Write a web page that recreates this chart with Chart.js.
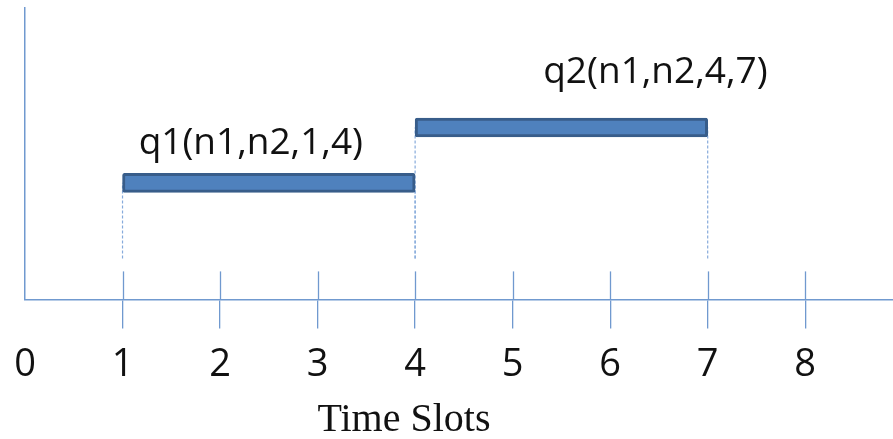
<!DOCTYPE html>
<html>
<head>
<meta charset="utf-8">
<script src="https://cdn.jsdelivr.net/npm/chart.js@4.4.1/dist/chart.umd.min.js"></script>
<style>
  html, body { margin: 0; padding: 0; background: #fff; }
  #wrap { width: 893px; height: 439px; position: relative; }
</style>
</head>
<body>
<div id="wrap"><canvas id="chart"></canvas></div>
<script>
// time slot ticks along the x axis
const timeSlots = [0, 1, 2, 3, 4, 5, 6, 7, 8];

// queries: name, start slot, end slot, drawing level
const queryNames = ['q1(n1,n2,1,4)', 'q2(n1,n2,4,7)'];
const queryStarts = [1, 4];
const queryEnds = [4, 7];
const queryLevels = [4, 5.9];

// where the dotted guides stop, in y units
const guideBase = 1.4;

const axisColor = '#7099cf';
const barFill = '#4f81bd';
const barEdge = '#385d8a';

// bar floating data built from the arrays above
const barData = queryNames.map((name, i) => ({
  x: [queryStarts[i], queryEnds[i]],
  y: queryLevels[i],
}));

// dotted guides from each bar end down toward the axis
const guideSets = [];
queryNames.forEach((name, i) => {
  [queryStarts[i], queryEnds[i]].forEach((slot) => {
    guideSets.push({
      type: 'line',
      indexAxis: 'x',
      data: [{ x: slot, y: guideBase }, { x: slot, y: queryLevels[i] }],
      borderColor: '#86aadb',
      borderWidth: 1.2,
      borderDash: [3, 2],
      pointRadius: 0,
      order: 2,
    });
  });
});

// short tick stubs above the x axis + query labels + axis title
const decorPlugin = {
  id: 'decor',
  beforeDatasetsDraw(chart) {
    const { ctx } = chart;
    const xs = chart.scales.x;
    const axisY = chart.chartArea.bottom;
    ctx.save();
    ctx.strokeStyle = axisColor;
    ctx.lineWidth = 1.3;
    timeSlots.forEach((v) => {
      if (v === 0) return;
      const px = Math.round(xs.getPixelForValue(v)) + 0.5;
      ctx.beginPath();
      ctx.moveTo(px, axisY);
      ctx.lineTo(px, axisY - 28);
      ctx.stroke();
    });
    ctx.restore();
  },
  afterDraw(chart, args, opts) {
    const { ctx } = chart;
    const xs = chart.scales.x;
    const ys = chart.scales.y;
    ctx.save();
    ctx.fillStyle = '#111';
    ctx.textAlign = 'center';
    ctx.textBaseline = 'alphabetic';
    ctx.font = opts.labelFont;
    queryNames.forEach((name, i) => {
      const cx = (xs.getPixelForValue(queryStarts[i]) + xs.getPixelForValue(queryEnds[i])) / 2;
      const cy = ys.getPixelForValue(queryLevels[i]);
      const off = opts.labelOffsets[i];
      ctx.fillText(name, cx + off.dx, cy + off.dy);
    });
    ctx.font = opts.titleFont;
    ctx.fillText(opts.title, opts.titleX, opts.titleY);
    ctx.restore();
  },
};

new Chart(document.getElementById('chart'), {
  type: 'bar',
  data: {
    datasets: [
      {
        type: 'bar',
        indexAxis: 'y',
        data: barData,
        backgroundColor: barFill,
        borderColor: barEdge,
        borderWidth: 3,
        borderSkipped: false,
        borderRadius: 2,
        barThickness: 19,
        order: 1,
      },
      ...guideSets,
    ],
  },
  options: {
    responsive: true,
    maintainAspectRatio: false,
    animation: false,
    layout: { padding: { left: 17, top: 8, right: 0, bottom: 37 } },
    plugins: {
      legend: { display: false },
      tooltip: { enabled: false },
      decor: {
        labelFont: '37px "Open Sans"',
        labelOffsets: [{ dx: -18, dy: -29 }, { dx: 94, dy: -44 }],
        title: 'Time Slots',
        titleFont: '40px "Liberation Serif"',
        titleX: 404,
        titleY: 431,
      },
    },
    scales: {
      x: {
        type: 'linear',
        min: 0,
        max: 8.9,
        offset: false,
        afterBuildTicks: (scale) => {
          scale.ticks = timeSlots.map((v) => ({ value: v }));
        },
        grid: {
          offset: false,
          drawOnChartArea: false,
          drawTicks: true,
          tickLength: 29,
          lineWidth: 1.3,
          color: (c) => (c.tick && c.tick.value === 0 ? 'rgba(0,0,0,0)' : axisColor),
        },
        border: { display: true, color: axisColor, width: 1.5 },
        ticks: {
          autoSkip: false,
          maxRotation: 0,
          padding: 14,
          color: '#111',
          font: { family: '"Open Sans"', size: 38 },
        },
      },
      y: {
        type: 'linear',
        min: 0,
        max: 10,
        offset: false,
        grid: { display: false, offset: false },
        border: { display: true, color: axisColor, width: 1.5 },
        ticks: { display: false },
      },
    },
  },
  plugins: [decorPlugin],
});
</script>
</body>
</html>
